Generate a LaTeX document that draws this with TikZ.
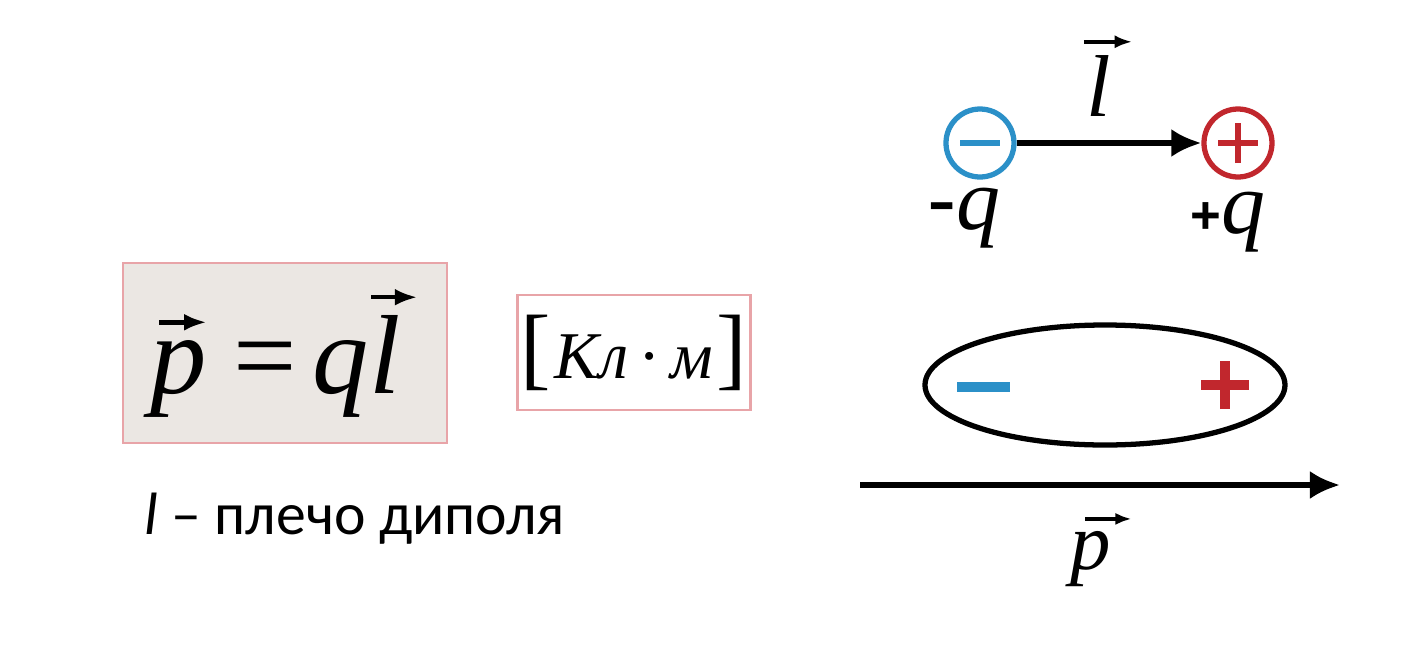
\documentclass[tikz,border=0pt]{standalone}
\usepackage{fontspec}
\setmainfont{Liberation Serif}
\newfontfamily\calfont{Carlito}
\newfontfamily\sgnfont{Liberation Sans}
\usetikzlibrary{arrows.meta,shapes.geometric}
\definecolor{negblue}{HTML}{2B90C8}
\definecolor{posred}{HTML}{C1272D}
\definecolor{boxgray}{HTML}{EBE7E3}
\definecolor{boxpink}{HTML}{E8A4A8}
% letter with a vector arrow: letter, arrow shift, arrow length
\newcommand\vecsym[3]{\tikz[baseline=(v.base)]{\node[shape=rectangle, draw=none, fill=none,
    inner sep=0pt, outer sep=0pt, minimum width=0pt, minimum height=0pt, anchor=center] (v) {\itshape #1};
  \draw[black, line width=0.04em, -{Latex[length=0.2em,width=0.15em]}] ([xshift=#2, yshift=0.16em]v.north west) -- ++(#3,0);}}

\begin{document}
\begin{tikzpicture}[>={Latex[length=3mm,width=2.8mm]}, line width=1.5pt,
  charge/.style={circle, draw, line width=1.5pt, minimum size=6.8mm, inner sep=0pt},
  frame/.style={draw=boxpink, line width=0.8pt}]
\useasboundingbox (0,0) rectangle (14.1,-6.46);
% formula and unit
\node[frame, fill=boxgray, minimum width=3.24cm, minimum height=1.8cm]
  (eq) at (2.85,-3.53) {\fontsize{32}{38}\selectfont\vecsym{p}{0.08em}{0.42em}\hspace{0.22em}=\hspace{0.14em}\textit{q}\vecsym{l}{0.02em}{0.41em}};
\node[frame, fill=white, minimum width=2.32cm, minimum height=1.15cm, inner sep=1pt]
  (unit) at (6.34,-3.525) {{\fontsize{26}{30}\selectfont[}\hspace{0.1em}{\fontsize{19}{23}\selectfont\textit{Кл}\hspace{0.15em}·\hspace{0.15em}\textit{м}}\hspace{0.1em}{\fontsize{26}{30}\selectfont]}};
\node[anchor=base west] (arm) at (1.30,-5.34)
  {\calfont\fontsize{17}{20}\selectfont\textit{l} – плечо диполя};
% dipole with charges
\node[charge, draw=negblue] (neg) at (9.80,-1.43) {};
\node[charge, draw=posred] (pos) at (12.38,-1.43) {};
\draw[negblue, line width=1.6pt] ([xshift=-2mm]neg.center) -- ([xshift=2mm]neg.center);
\draw[posred, line width=1.6pt] ([xshift=-2mm]pos.center) -- ([xshift=2mm]pos.center);
\draw[posred, line width=1.6pt] ([yshift=-2mm]pos.center) -- ([yshift=2mm]pos.center);
\draw[->] (neg) -- (pos);
\node (lvec) at (11.08,-0.76) {\fontsize{25}{30}\selectfont\vecsym{l}{-0.03em}{0.55em}};
\node (qneg) at (9.64,-2.18) {\fontsize{25}{30}\selectfont{\sgnfont -}\textit{q}};
\node (qpos) at (12.28,-2.22) {\fontsize{25}{30}\selectfont{\sgnfont\bfseries\fontsize{15}{18}\selectfont +}\textit{q}};
% dipole as a body
\node[ellipse, draw, minimum width=3.6cm, minimum height=1.2cm] (body) at (11.05,-3.85) {};
\draw[negblue, line width=3pt] ([xshift=-14.8mm,yshift=-0.2mm]body.center) -- ([xshift=-9.5mm,yshift=-0.2mm]body.center);
\draw[posred, line width=3pt] ([xshift=9.6mm]body.center) -- ([xshift=14.4mm]body.center);
\draw[posred, line width=3pt] ([xshift=12mm,yshift=-2.4mm]body.center) -- ([xshift=12mm,yshift=2.4mm]body.center);
\coordinate (pstart) at (8.6,-4.85);
\coordinate (pend) at (13.4,-4.85);
\draw[->] (pstart) -- (pend);
\node (pvec) at (11.02,-5.5) {\fontsize{23}{28}\selectfont\vecsym{p}{0.18em}{0.57em}};
\end{tikzpicture}
\end{document}
